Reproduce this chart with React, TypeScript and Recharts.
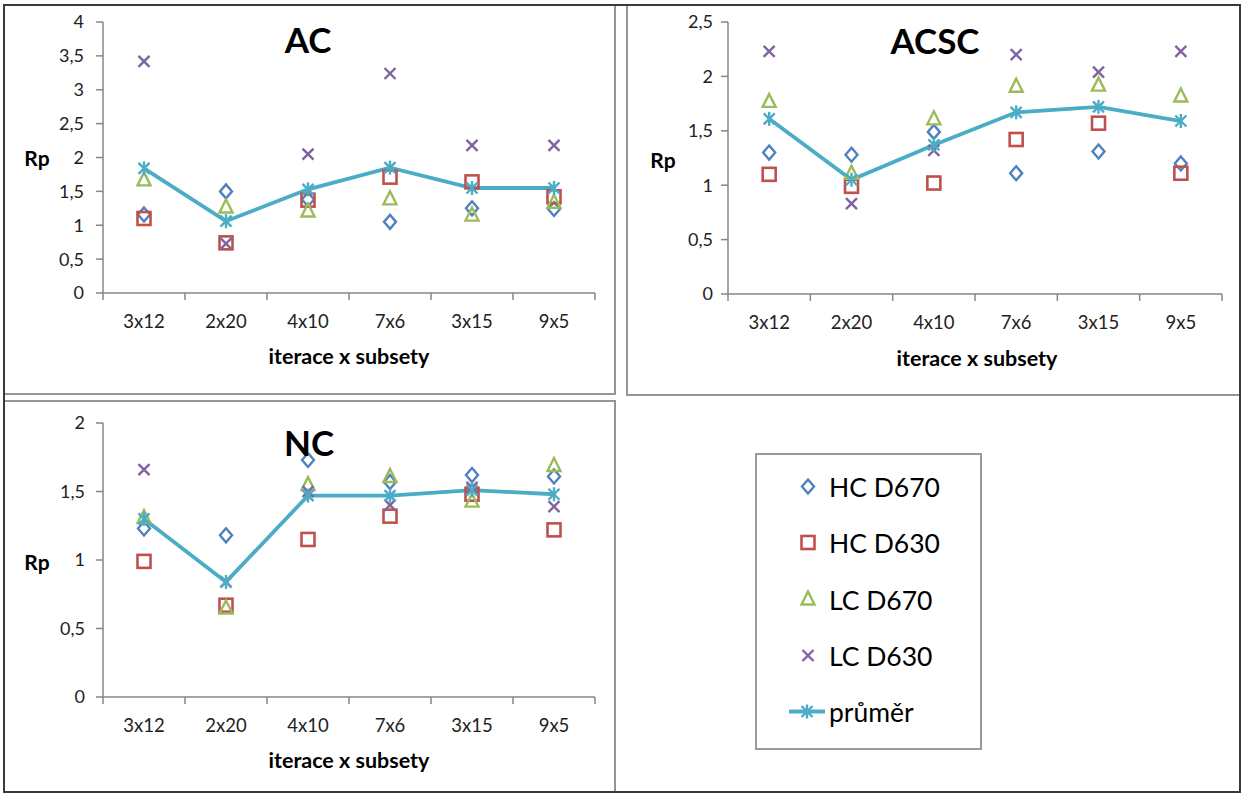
import React from 'react';
import { LineChart, Line, XAxis, YAxis } from 'recharts';

const categories = ['3x12', '2x20', '4x10', '7x6', '3x15', '9x5'];
const seriesNames = ['HC D670', 'HC D630', 'LC D670', 'LC D630', 'průměr'];

const acHC670 = [1.16, 1.5, 1.38, 1.05, 1.25, 1.24];
const acHC630 = [1.1, 0.74, 1.37, 1.71, 1.64, 1.42];
const acLC670 = [1.67, 1.27, 1.21, 1.39, 1.15, 1.34];
const acLC630 = [3.42, 0.73, 2.05, 3.24, 2.18, 2.18];
const acMean = [1.84, 1.06, 1.53, 1.85, 1.55, 1.55];

const acscHC670 = [1.3, 1.28, 1.49, 1.11, 1.31, 1.2];
const acscHC630 = [1.1, 0.99, 1.02, 1.42, 1.57, 1.11];
const acscLC670 = [1.77, 1.11, 1.61, 1.91, 1.92, 1.82];
const acscLC630 = [2.23, 0.83, 1.32, 2.2, 2.04, 2.23];
const acscMean = [1.61, 1.05, 1.37, 1.67, 1.72, 1.59];

const ncHC670 = [1.23, 1.18, 1.73, 1.57, 1.62, 1.61];
const ncHC630 = [0.99, 0.67, 1.15, 1.32, 1.48, 1.22];
const ncLC670 = [1.31, 0.65, 1.55, 1.61, 1.43, 1.69];
const ncLC630 = [1.66, 0.84, 1.5, 1.4, 1.53, 1.39];
const ncMean = [1.3, 0.84, 1.47, 1.47, 1.51, 1.48];

const acTicks = [0, 0.5, 1, 1.5, 2, 2.5, 3, 3.5, 4];
const acscTicks = [0, 0.5, 1, 1.5, 2, 2.5];
const ncTicks = [0, 0.5, 1, 1.5, 2];

const FONT = 'Lato, "Open Sans", sans-serif';
const AXIS = '#868686';
const C_HC670 = '#4F81BD';
const C_HC630 = '#C0504D';
const C_LC670 = '#9BBB59';
const C_LC630 = '#8064A2';
const C_MEAN = '#4BACC6';
const SW = 2.4;

const xTicks = categories.flatMap((_, i) => [i, i + 0.5]).concat([categories.length]);

function buildData(a: number[], b: number[], c: number[], d: number[], m: number[]) {
  return categories.map((cat, i) => ({ x: i + 0.5, cat, hc670: a[i], hc630: b[i], lc670: c[i], lc630: d[i], mean: m[i] }));
}

const Diamond = ({ cx, cy }: any) => (
  <path d={`M${cx},${cy - 7}L${cx + 6},${cy}L${cx},${cy + 7}L${cx - 6},${cy}Z`} fill="none" stroke={C_HC670} strokeWidth={SW} />
);
const Square = ({ cx, cy }: any) => (
  <rect x={cx - 6.5} y={cy - 6.5} width={13} height={13} fill="none" stroke={C_HC630} strokeWidth={SW + 0.2} />
);
const Triangle = ({ cx, cy }: any) => (
  <path d={`M${cx},${cy - 7.5}L${cx + 6.5},${cy + 5.5}L${cx - 6.5},${cy + 5.5}Z`} fill="none" stroke={C_LC670} strokeWidth={SW} />
);
const Cross = ({ cx, cy }: any) => (
  <g stroke={C_LC630} strokeWidth={SW}>
    <line x1={cx - 5.5} y1={cy - 5.5} x2={cx + 5.5} y2={cy + 5.5} />
    <line x1={cx - 5.5} y1={cy + 5.5} x2={cx + 5.5} y2={cy - 5.5} />
  </g>
);
const Star = ({ cx, cy }: any) => (
  <g stroke={C_MEAN} strokeWidth={SW}>
    <line x1={cx - 5.5} y1={cy - 5.5} x2={cx + 5.5} y2={cy + 5.5} />
    <line x1={cx - 5.5} y1={cy + 5.5} x2={cx + 5.5} y2={cy - 5.5} />
    <line x1={cx} y1={cy - 7} x2={cx} y2={cy + 7} />
  </g>
);

const XTick = (props: any) => {
  const { x, y, payload } = props;
  const v = payload.value;
  if (Number.isInteger(v)) {
    return <line x1={x} x2={x} y1={y} y2={y + 7} stroke={AXIS} strokeWidth={1.5} />;
  }
  return (
    <text x={x} y={y + 35} textAnchor="middle" fontSize={18.5} fill="#222" fontFamily={FONT}>
      {categories[Math.floor(v)]}
    </text>
  );
};

type PanelProps = {
  left: number; top: number; width: number; height: number;
  mTop: number; mRight: number; yWidth: number; xHeight: number;
  ticks: number[]; yMargin: number; data: any[];
};

function Panel(p: PanelProps) {
  const mk = (Shape: any) => (d: any) => <Shape key={`m${d.index}`} cx={d.cx} cy={d.cy} />;
  return (
    <div style={{ position: 'absolute', left: p.left, top: p.top }}>
      <LineChart width={p.width} height={p.height} data={p.data} margin={{ top: p.mTop, right: p.mRight, left: 0, bottom: 0 }}>
        <XAxis
          dataKey="x"
          type="number"
          domain={[0, categories.length]}
          ticks={xTicks}
          interval={0}
          height={p.xHeight}
          tickSize={0}
          tickMargin={0}
          tickLine={false}
          tick={<XTick />}
          axisLine={{ stroke: AXIS, strokeWidth: 1.5 }}
        />
        <YAxis
          type="number"
          domain={[0, p.ticks[p.ticks.length - 1]]}
          ticks={p.ticks}
          interval={0}
          width={p.yWidth}
          tickSize={7}
          tickMargin={p.yMargin}
          tickLine={{ stroke: AXIS, strokeWidth: 1.5 }}
          axisLine={{ stroke: AXIS, strokeWidth: 1.5 }}
          tick={{ fontSize: 18, fill: '#222', fontFamily: FONT }}
          tickFormatter={(v: number) => String(v).replace('.', ',')}
        />
        <Line dataKey="hc670" name={seriesNames[0]} stroke="none" dot={mk(Diamond)} activeDot={false} isAnimationActive={false} />
        <Line dataKey="hc630" name={seriesNames[1]} stroke="none" dot={mk(Square)} activeDot={false} isAnimationActive={false} />
        <Line dataKey="lc670" name={seriesNames[2]} stroke="none" dot={mk(Triangle)} activeDot={false} isAnimationActive={false} />
        <Line dataKey="lc630" name={seriesNames[3]} stroke="none" dot={mk(Cross)} activeDot={false} isAnimationActive={false} />
        <Line dataKey="mean" name={seriesNames[4]} stroke={C_MEAN} strokeWidth={3.8} dot={mk(Star)} activeDot={false} isAnimationActive={false} />
      </LineChart>
    </div>
  );
}

const box = (l: number, t: number, r: number, b: number, color: string) => (
  <div style={{ position: 'absolute', left: l, top: t, width: r - l, height: b - t, border: `2px solid ${color}`, boxSizing: 'border-box' }} />
);

export default function App() {
  const acData = buildData(acHC670, acHC630, acLC670, acLC630, acMean);
  const acscData = buildData(acscHC670, acscHC630, acscLC670, acscLC630, acscMean);
  const ncData = buildData(ncHC670, ncHC630, ncLC670, ncLC630, ncMean);
  const legendShapes = [Diamond, Square, Triangle, Cross];
  const legendBase = [497, 553, 609.5, 666, 722];
  return (
    <div style={{ position: 'absolute', left: 0, top: 0, width: 1246, height: 800, background: '#fff', fontFamily: FONT }}>
      {box(3, 4, 616, 395, '#959595')}
      {box(626, 4, 1241, 396, '#959595')}
      {box(3, 400, 616, 793, '#959595')}
      {box(3, 4, 1241, 793, '#3a3a3a')}
      <Panel left={0} top={0} width={615} height={394} mTop={22} mRight={20} yWidth={103} xHeight={101} ticks={acTicks} yMargin={12} data={acData} />
      <Panel left={620} top={0} width={620} height={394} mTop={22} mRight={18} yWidth={108} xHeight={100} ticks={acscTicks} yMargin={8} data={acscData} />
      <Panel left={0} top={395} width={615} height={398} mTop={28} mRight={20} yWidth={103} xHeight={96} ticks={ncTicks} yMargin={11} data={ncData} />
      <svg width={1246} height={800} style={{ position: 'absolute', left: 0, top: 0, pointerEvents: 'none' }}>
        <g fontFamily={FONT} fontWeight="bold" fill="#000">
          <text x={308} y={53} fontSize={35} textAnchor="middle">AC</text>
          <text x={935} y={54} fontSize={35} textAnchor="middle">ACSC</text>
          <text x={309} y={456} fontSize={35} textAnchor="middle">NC</text>
          <text x={37} y={166} fontSize={21} textAnchor="middle">Rp</text>
          <text x={663} y={168} fontSize={21} textAnchor="middle">Rp</text>
          <text x={37} y={570} fontSize={21} textAnchor="middle">Rp</text>
          <text x={349} y={364} fontSize={21.5} textAnchor="middle">iterace x subsety</text>
          <text x={977} y={366} fontSize={21.5} textAnchor="middle">iterace x subsety</text>
          <text x={349} y={768} fontSize={21.5} textAnchor="middle">iterace x subsety</text>
        </g>
        <rect x={756} y={454} width={225} height={295} fill="none" stroke="#9a9a9a" strokeWidth={2} />
        {seriesNames.map((name, i) => {
          const cy = legendBase[i] - 10.5;
          const Shape = legendShapes[i];
          return (
            <g key={name}>
              {Shape ? (
                <Shape cx={808} cy={cy} />
              ) : (
                <g>
                  <line x1={789} x2={825} y1={cy} y2={cy} stroke={C_MEAN} strokeWidth={3.8} />
                  <Star cx={807} cy={cy} />
                </g>
              )}
              <text x={829} y={legendBase[i]} fontSize={26.5} fontFamily={FONT} fill="#000">{name}</text>
            </g>
          );
        })}
      </svg>
    </div>
  );
}
